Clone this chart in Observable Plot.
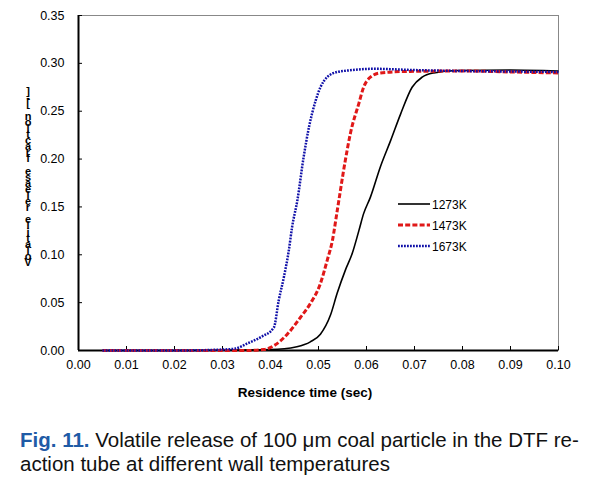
<!DOCTYPE html>
<html>
<head>
<meta charset="utf-8">
<script src="https://cdn.jsdelivr.net/npm/d3@7"></script>
<script src="https://cdn.jsdelivr.net/npm/@observablehq/plot@0.6"></script>
<style>
  body { margin: 0; background: #fff; font-family: "Liberation Sans", Arial, sans-serif; }
  #chart { width: 599px; }
  #caption { margin: 18px 0 0 20px; font-size: 20.5px; line-height: 24px; color: #111; width: 579px; white-space: nowrap; }
  #caption .fig { color: #1f5ba6; font-weight: bold; }
</style>
</head>
<body>
<div id="chart"></div>
<div id="caption"><span class="fig">Fig. 11.</span> Volatile release of 100 &mu;m coal particle in the DTF re-<br>action tube at different wall temperatures</div>
<script>
const seriesNames = ["1273K", "1473K", "1673K"];

const t1273 = [0.005, 0.020, 0.040, 0.0455, 0.0483, 0.0504, 0.0525, 0.0539, 0.0556, 0.057, 0.0584, 0.0594, 0.0608, 0.0629, 0.065, 0.0671, 0.0695, 0.0716, 0.074, 0.0789, 0.090, 0.100];
const v1273 = [0, 0, 0.001, 0.004, 0.009, 0.017, 0.037, 0.060, 0.084, 0.101, 0.125, 0.143, 0.160, 0.192, 0.219, 0.247, 0.275, 0.2856, 0.290, 0.2926, 0.293, 0.292];

const t1473 = [0.005, 0.020, 0.035, 0.0386, 0.0407, 0.0435, 0.0463, 0.0483, 0.0504, 0.0518, 0.0529, 0.0539, 0.0556, 0.0567, 0.0584, 0.0594, 0.0608, 0.0629, 0.0678, 0.080, 0.090, 0.100];
const v1473 = [0, 0, 0, 0.001, 0.005, 0.017, 0.035, 0.049, 0.070, 0.094, 0.115, 0.146, 0.199, 0.228, 0.258, 0.275, 0.2856, 0.290, 0.2915, 0.292, 0.291, 0.290];

const t1673 = [0.005, 0.010, 0.020, 0.030, 0.0327, 0.035, 0.038, 0.0407, 0.0417, 0.0428, 0.0438, 0.0445, 0.0456, 0.0469, 0.048, 0.0494, 0.0504, 0.0518, 0.0539, 0.0563, 0.0615, 0.070, 0.080, 0.090, 0.100];
const v1673 = [0, 0, 0, 0.001, 0.002, 0.007, 0.014, 0.024, 0.052, 0.077, 0.104, 0.129, 0.157, 0.202, 0.233, 0.261, 0.275, 0.2856, 0.291, 0.2926, 0.2943, 0.293, 0.292, 0.2915, 0.291];

const xTicks = [0, 0.01, 0.02, 0.03, 0.04, 0.05, 0.06, 0.07, 0.08, 0.09, 0.10];
const yTicks = [0, 0.05, 0.10, 0.15, 0.20, 0.25, 0.30, 0.35];
const xLabel = "Residence time (sec)";
const yLabel = "Volatile release fraction [-]";

const toRows = (ts, vs) => ts.map((t, i) => ({t, v: vs[i]}));
const d1273 = toRows(t1273, v1273);
const d1473 = toRows(t1473, v1473);
const d1673 = toRows(t1673, v1673);

const styles = [
  {stroke: "#000000", strokeWidth: 1.6, strokeDasharray: "none"},
  {stroke: "#e01818", strokeWidth: 3, strokeDasharray: "5,2.2"},
  {stroke: "#1010a8", strokeWidth: 2.5, strokeDasharray: "1.8,1.2"}
];

const lineOpts = (i) => ({
  x: "t", y: "v",
  stroke: styles[i].stroke,
  strokeWidth: styles[i].strokeWidth,
  strokeDasharray: styles[i].strokeDasharray,
  strokeLinecap: "butt",
  strokeLinejoin: "round",
  curve: "monotone-x"
});

const plot = Plot.plot({
  width: 599,
  height: 410,
  marginLeft: 78,
  marginRight: 41,
  marginTop: 15,
  marginBottom: 60,
  style: {fontFamily: "Liberation Sans, Arial, sans-serif", fontSize: "12.5px", color: "#000", background: "#fff"},
  x: {domain: [0, 0.1]},
  y: {domain: [0, 0.35]},
  marks: [
    Plot.frame({stroke: "#888", strokeWidth: 1}),
    Plot.axisX({ticks: xTicks, tickFormat: d3.format(".2f"), tickSize: -4, tickPadding: 14, label: null, fontSize: 12.5}),
    Plot.axisY({ticks: yTicks, tickFormat: d3.format(".2f"), tickSize: -4, tickPadding: 18, label: null, fontSize: 12.5}),
    Plot.ruleX([0], {stroke: "#000", strokeWidth: 2}),
    Plot.ruleY([0], {stroke: "#000", strokeWidth: 2}),
    Plot.line(d1273, lineOpts(0)),
    Plot.line(d1473, lineOpts(1)),
    Plot.line(d1673, lineOpts(2))
  ]
});

document.getElementById("chart").appendChild(plot);

const svg = d3.select(plot);

// x-axis label
svg.append("text")
  .attr("x", 305).attr("y", 397)
  .attr("text-anchor", "middle")
  .attr("font-weight", "bold")
  .attr("font-size", 13.5)
  .attr("fill", "#000")
  .text(xLabel);

// y-axis label, upright glyphs stacked bottom to top
const yl = svg.append("text")
  .attr("font-weight", "bold")
  .attr("font-size", 11)
  .attr("text-anchor", "middle")
  .attr("fill", "#000");
Array.from(yLabel).forEach((c, i) => {
  yl.append("tspan").attr("x", 28).attr("y", 266 - i * 6.1).text(c);
});

// legend
const lg = svg.append("g");
seriesNames.forEach((name, i) => {
  const y = 204 + i * 21;
  const s = styles[i];
  lg.append("line")
    .attr("x1", 398).attr("x2", 430).attr("y1", y).attr("y2", y)
    .attr("stroke", s.stroke).attr("stroke-width", s.strokeWidth)
    .attr("stroke-dasharray", s.strokeDasharray);
  lg.append("text").attr("x", 432).attr("y", y + 4.5)
    .attr("text-anchor", "start")
    .attr("font-size", 12).attr("fill", "#000").text(name);
});
</script>
</body>
</html>
